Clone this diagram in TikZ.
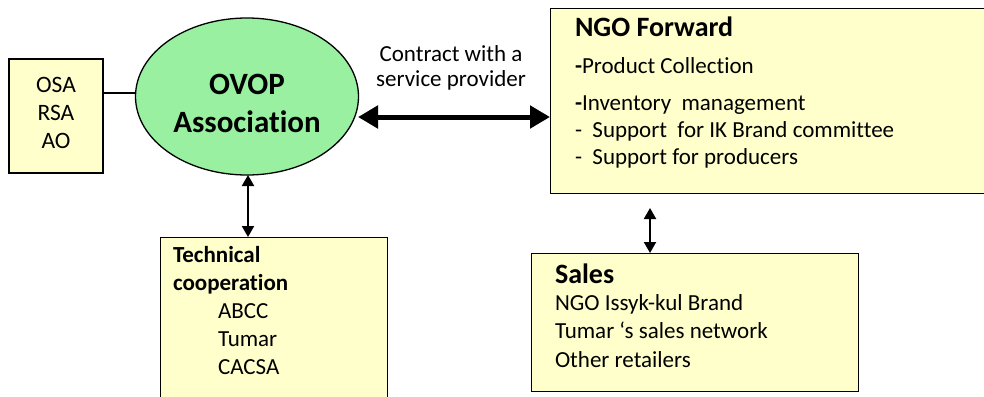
\documentclass[tikz,border=0pt]{standalone}
\usepackage{fontspec}
\setmainfont{Carlito}[Ligatures={NoCommon}]
\usetikzlibrary{arrows.meta,shapes.geometric}
\definecolor{boxyellow}{RGB}{255,255,204}
\definecolor{ovalgreen}{RGB}{152,240,160}
\tikzset{
  ybox/.style={draw=black, line width=1.3pt, fill=boxyellow},
  txt/.style={anchor=base west, inner sep=0pt, outer sep=0pt},
  ctxt/.style={anchor=base, inner sep=0pt, outer sep=0pt},
  thinarrow/.style={line width=2pt, {Triangle[length=11pt,width=12pt]}-{Triangle[length=11pt,width=12pt]}},
  thickarrow/.style={line width=5pt, {Triangle[length=20pt,width=22pt]}-{Triangle[length=20pt,width=22pt]}},
  normal/.style={font=\fontsize{23}{27}\selectfont},
  head/.style={font=\fontsize{28}{32}\selectfont\bfseries},
}
\begin{document}
\begin{tikzpicture}[x=1pt,y=-1pt]
\useasboundingbox (0,0) rectangle (984,396);
\begin{scope}
\clip (0,0) rectangle (984,396);
% boxes
\draw[ybox] (9,59) rectangle (103,173);
\node[ybox, minimum width=434pt, minimum height=185pt, anchor=north west, inner sep=0pt] (ngo) at (550,8) {};
\node[ybox, minimum width=227pt, minimum height=180pt, anchor=north west, inner sep=0pt] (tech) at (160,237) {};
\node[ybox, minimum width=327pt, minimum height=138pt, anchor=north west, inner sep=0pt] (sales) at (531,253) {};
\node[draw=black, line width=1.3pt, fill=ovalgreen, ellipse, minimum width=223pt, minimum height=157pt, inner sep=0pt] (ovop) at (247,96.5) {};
\end{scope}
\node[inner sep=0pt, minimum width=94pt, minimum height=114pt] (osa) at (56,116) {};
% connectors
\draw[line width=1.2pt] (osa.east |- 0,93) -- (ovop.west |- 0,93);
\draw[thickarrow] (358,117) coordinate (tL) -- (550,117) coordinate (tR);
\coordinate (a1) at (248,175);
\coordinate (a2) at (248,237);
\draw[thinarrow] (a1) -- (a2);
\coordinate (b1) at (650,208);
\coordinate (b2) at (650,253);
\draw[thinarrow] (b1) -- (b2);
% OSA text
\node[ctxt, font=\fontsize{23.5}{27}\selectfont] (t1) at (56,92.5) {OSA};
\node[ctxt, font=\fontsize{23.5}{27}\selectfont] (t2) at (56,120) {RSA};
\node[ctxt, font=\fontsize{23.5}{27}\selectfont] (t3) at (56,148) {AO};
% OVOP text
\node[ctxt, font=\fontsize{31}{36}\selectfont\bfseries] (o1) at (247,94) {OVOP};
\node[ctxt, font=\fontsize{31}{36}\selectfont\bfseries] (o2) at (247,132) {Association};
% contract label
\node[ctxt, normal] (c1) at (451,61) {Contract with a};
\node[ctxt, normal] (c2) at (451,86) {service provider};
% NGO Forward text
\node[txt, head] (n0) at (575,37) {NGO Forward};
\node[txt, normal] (n1) at (575,74) {\textbf{-}Product Collection};
\node[txt, normal] (n2) at (575,110) {\textbf{-}Inventory\ \ management};
\node[txt, normal] (n3) at (575,137) {-\ \ Support\ \ for IK Brand committee};
\node[txt, normal] (n4) at (575,164) {-\ \ Support for producers};
% Technical cooperation text
\node[txt, font=\fontsize{23}{27}\selectfont\bfseries] (k0) at (173,262) {Technical};
\node[txt, font=\fontsize{23}{27}\selectfont\bfseries] (k1) at (173,290) {cooperation};
\node[txt, normal] (k2) at (218,318) {ABCC};
\node[txt, normal] (k3) at (218,346) {Tumar};
\node[txt, normal] (k4) at (218,374) {CACSA};
% Sales text
\node[txt, head] (s0) at (555,283) {Sales};
\node[txt, normal] (s1) at (555,310) {NGO Issyk-kul Brand};
\node[txt, normal] (s2) at (555,338) {Tumar ‘s sales network};
\node[txt, normal] (s3) at (555,367) {Other retailers};
\end{tikzpicture}
\end{document}
